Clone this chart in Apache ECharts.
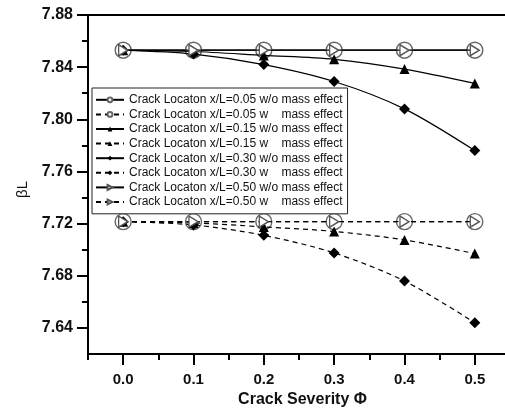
<!DOCTYPE html>
<html>
<head>
<meta charset="utf-8">
<script src="https://cdn.jsdelivr.net/npm/echarts@6/dist/echarts.min.js"></script>
<style>
  html, body { margin: 0; padding: 0; background: #fff; }
  #chart { width: 505px; height: 409px; }
</style>
</head>
<body>
<div id="chart"></div>
<script>
// crack severity values on the x axis
const severity = [0.0, 0.1, 0.2, 0.3, 0.4, 0.5];

// beta*L, without mass effect
const loc005_wo = [7.853, 7.853, 7.853, 7.853, 7.853, 7.853];
const loc015_wo = [7.853, 7.852, 7.849, 7.846, 7.8385, 7.8275];
const loc030_wo = [7.853, 7.850, 7.842, 7.829, 7.808, 7.776];
const loc050_wo = [7.853, 7.853, 7.853, 7.853, 7.853, 7.853];

// beta*L, with mass effect
const loc005_w = [7.7215, 7.7215, 7.7215, 7.7215, 7.7215, 7.7215];
const loc015_w = [7.7215, 7.7205, 7.7175, 7.714, 7.7075, 7.697];
const loc030_w = [7.7215, 7.719, 7.711, 7.6975, 7.676, 7.644];
const loc050_w = [7.7215, 7.7215, 7.7215, 7.7215, 7.7215, 7.7215];

const xMajor = [0.0, 0.1, 0.2, 0.3, 0.4, 0.5];
const xMinor = [-0.05, 0.05, 0.15, 0.25, 0.35, 0.45, 0.55];
const yMajor = [7.64, 7.68, 7.72, 7.76, 7.80, 7.84, 7.88];
const yMinor = [7.66, 7.70, 7.74, 7.78, 7.82, 7.86];

const FONT = 'Arial, "Liberation Sans", sans-serif';
const triRight = 'path://M0,0 L10,6 L0,12 Z';

const pair = (xs, ys) => xs.map((x, i) => [x, ys[i]]);

const chart = echarts.init(document.getElementById('chart'));

const makeSeries = (name, data, dashed, symbol, opts = {}) => ({
  name,
  type: 'line',
  data: pair(severity, data),
  smooth: 0.3,
  symbol,
  symbolSize: opts.size || 10,
  lineStyle: { color: '#000', width: 1.2, type: dashed ? [5, 4] : 'solid' },
  itemStyle: opts.hollow
    ? { color: '#fff', borderColor: opts.stroke || '#444', borderWidth: 1.4 }
    : { color: '#000' },
  z: opts.z || 2
});

const option = {
  animation: false,
  backgroundColor: '#fff',
  grid: {
    left: 88, right: -12, top: 15, bottom: 55,
    outerBoundsMode: 'none',
    show: true, borderColor: '#000', borderWidth: 2
  },
  legend: {
    orient: 'vertical',
    left: 92, top: 88,
    padding: [5, 5, 5, 3],
    itemWidth: 28, itemHeight: 6, itemGap: 1,
    borderColor: '#222', borderWidth: 1, backgroundColor: '#fff',
    textStyle: { fontFamily: FONT, fontSize: 12, color: '#111', lineHeight: 13.6 },
    data: [
      'Crack Locaton x/L=0.05 w/o mass effect',
      'Crack Locaton x/L=0.05 w    mass effect',
      'Crack Locaton x/L=0.15 w/o mass effect',
      'Crack Locaton x/L=0.15 w    mass effect',
      'Crack Locaton x/L=0.30 w/o mass effect',
      'Crack Locaton x/L=0.30 w    mass effect',
      'Crack Locaton x/L=0.50 w/o mass effect',
      'Crack Locaton x/L=0.50 w    mass effect'
    ]
  },
  xAxis: [
    {
      type: 'value', min: -0.05, max: 0.56,
      name: 'Crack Severity \u03A6', nameLocation: 'middle', nameGap: 37,
      nameTextStyle: { fontFamily: FONT, fontSize: 16, fontWeight: 'bold', color: '#111' },
      axisLine: { show: true, onZero: false, lineStyle: { color: '#000', width: 2 } },
      axisTick: { show: true, customValues: xMajor, length: 11, lineStyle: { color: '#000', width: 2 } },
      axisLabel: {
        customValues: xMajor, margin: 18,
        formatter: v => v.toFixed(1),
        fontFamily: FONT, fontSize: 15, fontWeight: 'bold', color: '#111'
      },
      splitLine: { show: false }
    },
    {
      type: 'value', min: -0.05, max: 0.56, position: 'bottom',
      axisLine: { show: false, onZero: false },
      axisTick: { show: true, customValues: xMinor, length: 6, lineStyle: { color: '#000', width: 2 } },
      axisLabel: { show: false },
      splitLine: { show: false }
    }
  ],
  yAxis: [
    {
      type: 'value', min: 7.62, max: 7.88,
      axisLine: { show: true, onZero: false, lineStyle: { color: '#000', width: 2 } },
      axisTick: { show: true, customValues: yMajor, length: 11, lineStyle: { color: '#000', width: 2 } },
      axisLabel: {
        customValues: yMajor, margin: 15,
        formatter: v => v.toFixed(2),
        fontFamily: FONT, fontSize: 16, fontWeight: 'bold', color: '#111'
      },
      splitLine: { show: false }
    },
    {
      type: 'value', min: 7.62, max: 7.88, position: 'left',
      axisLine: { show: false, onZero: false },
      axisTick: { show: true, customValues: yMinor, length: 6, lineStyle: { color: '#000', width: 2 } },
      axisLabel: { show: false },
      splitLine: { show: false }
    }
  ],
  graphic: [
    {
      type: 'text', left: 15, top: 181, rotation: Math.PI / 2,
      style: { text: '\u03B2L', fontFamily: FONT, fontSize: 15, fill: '#111' }
    }
  ],
  series: [
    makeSeries('Crack Locaton x/L=0.05 w/o mass effect', loc005_wo, false, 'circle', { hollow: true, size: 16, stroke: '#666', z: 1 }),
    makeSeries('Crack Locaton x/L=0.05 w    mass effect', loc005_w, true, 'circle', { hollow: true, size: 16, stroke: '#666', z: 1 }),
    makeSeries('Crack Locaton x/L=0.15 w/o mass effect', loc015_wo, false, 'triangle', { size: 10 }),
    makeSeries('Crack Locaton x/L=0.15 w    mass effect', loc015_w, true, 'triangle', { size: 10 }),
    makeSeries('Crack Locaton x/L=0.30 w/o mass effect', loc030_wo, false, 'diamond', { size: 11 }),
    makeSeries('Crack Locaton x/L=0.30 w    mass effect', loc030_w, true, 'diamond', { size: 11 }),
    makeSeries('Crack Locaton x/L=0.50 w/o mass effect', loc050_wo, false, triRight, { hollow: true, size: [9, 11], stroke: '#555', z: 3 }),
    makeSeries('Crack Locaton x/L=0.50 w    mass effect', loc050_w, true, triRight, { hollow: true, size: [9, 11], stroke: '#555', z: 3 })
  ]
};

chart.setOption(option);
</script>
</body>
</html>
